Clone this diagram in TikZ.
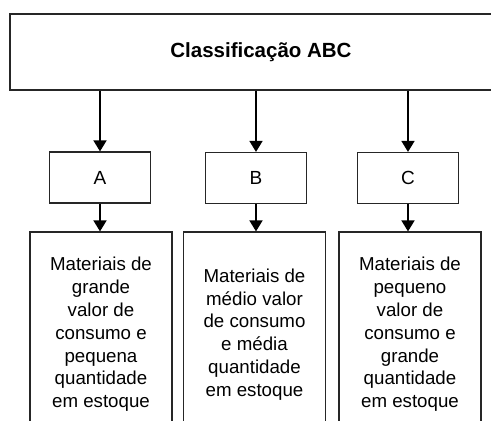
\documentclass[tikz,border=0pt]{standalone}
\usepackage{fontspec}
\setmainfont{Liberation Sans}
\usetikzlibrary{arrows.meta}
\begin{document}
\begin{tikzpicture}[x=1pt,y=-1pt,
  boxline/.style={draw=black!85,line width=1.2pt,inner sep=0pt,fill=white},
  topbox/.style={boxline,minimum width=502pt,minimum height=76pt,font=\fontsize{20.5pt}{24pt}\selectfont\bfseries},
  letterbox/.style={boxline,minimum width=101pt,minimum height=51pt,font=\fontsize{19pt}{22pt}\selectfont},
  descbox/.style={boxline,minimum width=142pt,minimum height=205pt,align=center,font=\fontsize{18.7pt}{22.8pt}\selectfont},
  arr/.style={draw=black,line width=1.7pt,-{Triangle[width=13pt,length=11pt]}}
]
\useasboundingbox (0,0) rectangle (491,421);
\clip (0,0) rectangle (491,421);
\node[topbox] (top) at (261,52) {Classificação ABC};
\node[letterbox] (A) at (100,177.5) {A};
\node[letterbox] (B) at (256,178) {B};
\node[letterbox] (C) at (408,178) {C};
\node[descbox] (dA) at (101,334.5) {Materiais de\\grande\\valor de\\consumo e\\pequena\\quantidade\\em estoque};
\node[descbox] (dB) at (254.5,334.5) {Materiais de\\médio valor\\de consumo\\e média\\quantidade\\em estoque};
\node[descbox] (dC) at (410,334.5) {Materiais de\\pequeno\\valor de\\consumo e\\grande\\quantidade\\em estoque};
\draw[arr] (top.south -| A.north) -- (A.north);
\draw[arr] (top.south -| B.north) -- (B.north);
\draw[arr] (top.south -| C.north) -- (C.north);
\draw[arr] (A.south) -- (A.south |- dA.north);
\draw[arr] (B.south) -- (B.south |- dB.north);
\draw[arr] (C.south) -- (C.south |- dC.north);
\end{tikzpicture}
\end{document}
